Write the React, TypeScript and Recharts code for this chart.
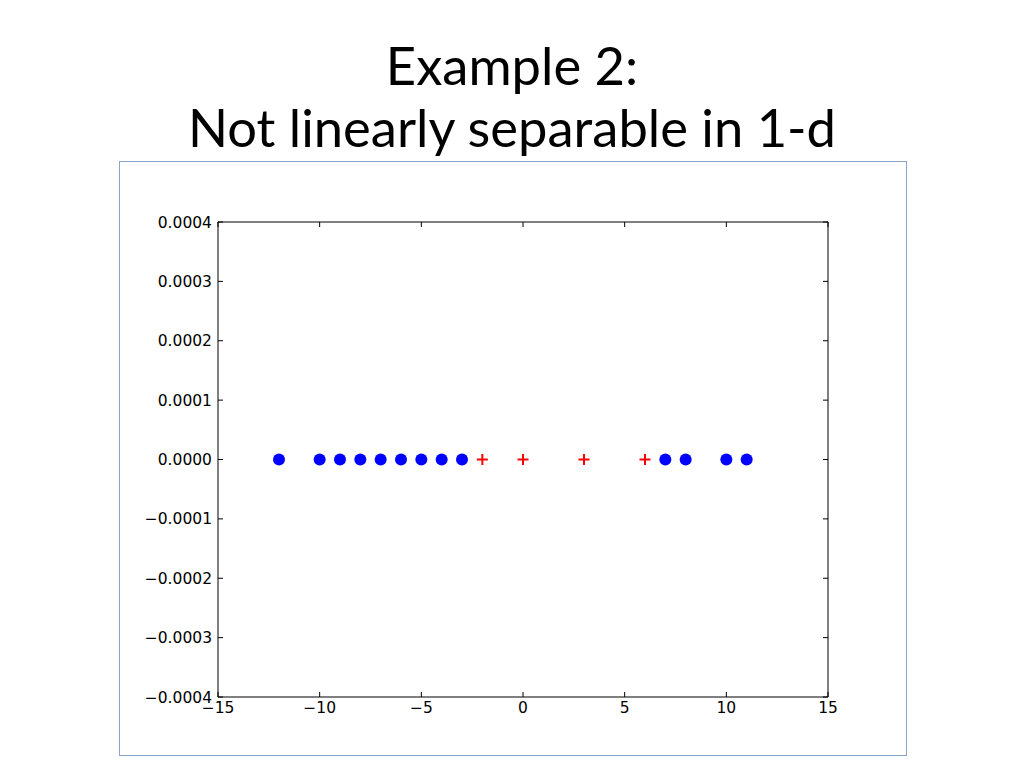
import { ScatterChart, Scatter, XAxis, YAxis } from 'recharts';

// points on the 1-d line (all at y = 0)
const blueX = [-12, -10, -9, -8, -7, -6, -5, -4, -3, 7, 8, 10, 11];
const blueY = [0, 0, 0, 0, 0, 0, 0, 0, 0, 0, 0, 0, 0];
const redX = [-2, 0, 3, 6];
const redY = [0, 0, 0, 0];

const xTicks = [-15, -10, -5, 0, 5, 10, 15];
const yTicks = [-0.0004, -0.0003, -0.0002, -0.0001, 0, 0.0001, 0.0002, 0.0003, 0.0004];

const titleLines = ['Example 2:', 'Not linearly separable in 1-d'];

const minus = (s: string) => s.replace('-', '\u2212');
const fmtX = (v: number) => minus(String(v));
const fmtY = (v: number) => minus(v.toFixed(4));

const TICK_LEN = 5;
const labelStyle = { fill: '#000', fontSize: 15.5, fontFamily: 'DejaVu Sans' };
const frame = { stroke: '#000', strokeWidth: 1 };

// matplotlib-style ticks: pointing into the plot
function BottomTick({ x, y, payload }: any) {
  return (
    <g>
      <line x1={x} x2={x} y1={y} y2={y - TICK_LEN} stroke="#000" />
      <text x={x} y={y + 16} textAnchor="middle" {...labelStyle}>
        {fmtX(payload.value)}
      </text>
    </g>
  );
}

function TopTick({ x, y }: any) {
  return <line x1={x} x2={x} y1={y} y2={y + TICK_LEN} stroke="#000" />;
}

function LeftTick({ x, y, payload }: any) {
  return (
    <g>
      <line x1={x} x2={x + TICK_LEN} y1={y} y2={y} stroke="#000" />
      <text x={x - 6} y={y} dy="0.355em" textAnchor="end" {...labelStyle}>
        {fmtY(payload.value)}
      </text>
    </g>
  );
}

function RightTick({ x, y }: any) {
  return <line x1={x} x2={x - TICK_LEN} y1={y} y2={y} stroke="#000" />;
}

function Dot({ cx, cy }: any) {
  return <circle cx={cx} cy={cy} r={6} fill="#0000ff" />;
}

function Plus({ cx, cy }: any) {
  return (
    <g stroke="#ff0000" strokeWidth={2}>
      <line x1={cx - 5.5} y1={cy} x2={cx + 5.5} y2={cy} />
      <line x1={cx} y1={cy - 5.5} x2={cx} y2={cy + 5.5} />
    </g>
  );
}

export default function App() {
  const blue = blueX.map((x, i) => ({ x, y: blueY[i] }));
  const red = redX.map((x, i) => ({ x, y: redY[i] }));

  return (
    <div
      style={{
        position: 'relative',
        width: 1024,
        height: 768,
        margin: -8,
        background: '#fff',
        overflow: 'hidden',
      }}
    >
      <div
        style={{
          position: 'absolute',
          top: 34,
          left: 0,
          width: 1024,
          textAlign: 'center',
          fontFamily: 'Lato',
          fontSize: 52.5,
          lineHeight: '62px',
          color: '#000',
        }}
      >
        {titleLines.map((t) => (
          <div key={t}>{t}</div>
        ))}
      </div>
      <div
        style={{
          position: 'absolute',
          left: 119,
          top: 161,
          width: 786,
          height: 593,
          border: '1px solid #8aa4cc',
        }}
      />
      <div style={{ position: 'absolute', left: 119, top: 161 }}>
        <ScatterChart width={788} height={595} margin={{ top: 60, right: 78, bottom: 29, left: 0 }}>
          <XAxis
            type="number"
            dataKey="x"
            domain={[-15, 15]}
            ticks={xTicks}
            allowDataOverflow
            height={30}
            tickSize={0}
            tickMargin={0}
            tick={<BottomTick />}
            tickLine={false}
            axisLine={frame}
          />
          <XAxis
            xAxisId="top"
            orientation="top"
            type="number"
            dataKey="x"
            domain={[-15, 15]}
            ticks={xTicks}
            allowDataOverflow
            height={1}
            tickSize={0}
            tickMargin={0}
            tick={<TopTick />}
            tickLine={false}
            axisLine={frame}
          />
          <YAxis
            type="number"
            dataKey="y"
            domain={[-0.0004, 0.0004]}
            ticks={yTicks}
            allowDataOverflow
            width={99}
            tickSize={0}
            tickMargin={0}
            tick={<LeftTick />}
            tickLine={false}
            axisLine={frame}
          />
          <YAxis
            yAxisId="right"
            orientation="right"
            type="number"
            dataKey="y"
            domain={[-0.0004, 0.0004]}
            ticks={yTicks}
            allowDataOverflow
            width={1}
            tickSize={0}
            tickMargin={0}
            tick={<RightTick />}
            tickLine={false}
            axisLine={frame}
          />
          <Scatter data={blue} shape={Dot} isAnimationActive={false} />
          <Scatter data={red} shape={Plus} isAnimationActive={false} />
        </ScatterChart>
      </div>
    </div>
  );
}
